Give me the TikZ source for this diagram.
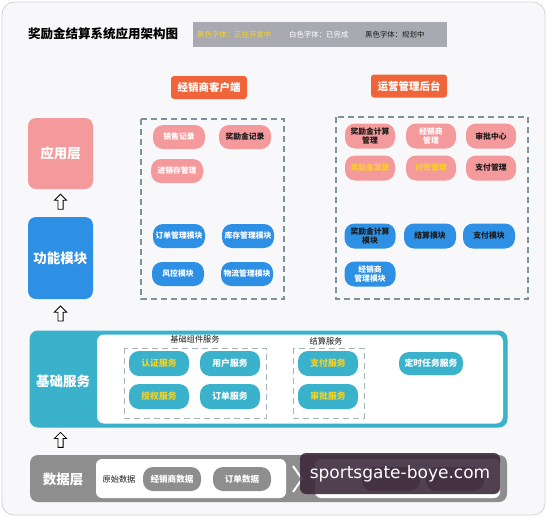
\documentclass[tikz,border=0pt]{standalone}
\usepackage{fontspec}
\setmainfont{Noto Sans CJK SC}
\newfontfamily\wmfont{DejaVu Sans}
\usetikzlibrary{shapes.arrows,calc}
\definecolor{pinkc}{HTML}{F59A9C}
\definecolor{bluec}{HTML}{2E90E5}
\definecolor{tealc}{HTML}{3BB2CB}
\definecolor{orangec}{HTML}{F0643A}
\definecolor{greyc}{HTML}{8E8E8E}
\definecolor{yellowc}{HTML}{F7D21E}
\definecolor{dashc}{HTML}{7B9399}
\definecolor{legendc}{HTML}{A9A9B2}
\definecolor{bgc}{HTML}{F8F8FB}
\definecolor{framec}{HTML}{D4D4D8}
\definecolor{wmc}{HTML}{3A2638}
\definecolor{darkt}{HTML}{1A1A1A}
\begin{document}
\begin{tikzpicture}[x=1pt,y=-1pt,
  pill/.style={rectangle, rounded corners=10pt, minimum width=52pt, minimum height=24pt, inner sep=0pt, align=center, font=\fontsize{7.8}{9}\selectfont\bfseries},
  pinkpill/.style={pill, fill=pinkc},
  bluepill/.style={pill, fill=bluec},
  tealpill/.style={pill, fill=tealc, minimum width=60pt, minimum height=25pt, font=\fontsize{8.8}{10}\selectfont\bfseries},
  datapill/.style={pill, fill=greyc, minimum width=58pt, minimum height=24pt, font=\fontsize{8.6}{10}\selectfont\bfseries, text=white},
  wt/.style={text=white},
  bt/.style={text=darkt},
  yt/.style={text=yellowc},
  layer/.style={rectangle, rounded corners=8pt, minimum width=65pt, inner sep=0pt, text=white, font=\fontsize{13.5}{15}\selectfont\bfseries},
  header/.style={rectangle, rounded corners=3pt, fill=orangec, minimum width=76pt, minimum height=23pt, inner sep=0pt, text=white, font=\fontsize{10.5}{12}\selectfont\bfseries},
  dashbox/.style={draw=dashc, line width=1.1pt, dash pattern=on 6pt off 4pt},
  sublabel/.style={font=\fontsize{8.2}{10}\selectfont, text=darkt},
  uparrow/.style={single arrow, draw=black, fill=white, line width=0.8pt, shape border rotate=90, minimum height=15pt, inner sep=2.2pt, single arrow head extend=3.5pt, single arrow tip angle=90},
  legt/.style={anchor=west, inner sep=0pt, font=\fontsize{7.4}{9}\selectfont}
]
\useasboundingbox (0,0) rectangle (547,517);
\fill[white] (0,0) rectangle (547,517);
\draw[framec, fill=bgc, rounded corners=12pt, line width=0.8pt] (2,2) rectangle (545,515);

% title and legend
\node[anchor=west, inner sep=0pt, font=\fontsize{12.5}{14}\selectfont\bfseries] (title) at (28,34) {奖励金结算系统应用架构图};
\node[fill=legendc, minimum width=254pt, minimum height=25pt, inner sep=0pt] (legend) at (320,34.5) {};
\node[legt, text=yellowc] (legy) at (197,34.5) {黄色字体：正在开发中};
\node[legt, text=white] (legw) at (289,34.5) {白色字体：已完成};
\node[legt, text=darkt] (legb) at (365,34.5) {黑色字体：规划中};

% headers
\node[header] (client) at (209,87.5) {经销商客户端};
\node[header] (ops) at (409,86) {运营管理后台};

% layer boxes
\node[layer, fill=pinkc, minimum height=71pt] (app) at (60.5,153.5) {应用层};
\node[layer, fill=bluec, minimum height=82pt] (func) at (60.5,258) {功能模块};

% dashed boxes
\draw[dashbox] (141,119) rectangle (284,299);
\draw[dashbox] (336,117) rectangle (528,299);

% client app pills
\node[pinkpill, wt] (p1) at (179,137) {销售记录};
\node[pinkpill, bt] (p2) at (245,137) {奖励金记录};
\node[pinkpill, wt] (p3) at (177,171) {进销存管理};
% client function pills
\node[bluepill, wt] (b1) at (179,236) {订单管理模块};
\node[bluepill, wt] (b2) at (248,236) {库存管理模块};
\node[bluepill, wt] (b3) at (178,274) {风控模块};
\node[bluepill, wt] (b4) at (247,274) {物流管理模块};

% ops app pills
\node[pinkpill, bt, minimum width=50pt, minimum height=25pt] (q1) at (370,136) {奖励金计算\\管理};
\node[pinkpill, wt, minimum width=50pt, minimum height=25pt] (q2) at (431,136) {经销商\\管理};
\node[pinkpill, bt, minimum width=50pt, minimum height=25pt] (q3) at (491,136) {审批中心};
\node[pinkpill, yt, minimum width=50pt, minimum height=25pt] (q4) at (370,168) {奖励金发放};
\node[pinkpill, yt, minimum width=50pt, minimum height=25pt] (q5) at (431,168) {对账管理};
\node[pinkpill, bt, minimum width=50pt, minimum height=25pt] (q6) at (491,168) {支付管理};
% ops function pills
\node[bluepill, bt, minimum width=51pt, minimum height=25pt] (c1) at (370,236) {奖励金计算\\模块};
\node[bluepill, bt, minimum width=52pt, minimum height=25pt] (c2) at (430,236) {结算模块};
\node[bluepill, bt, minimum width=52pt, minimum height=25pt] (c3) at (489,236) {支付模块};
\node[bluepill, wt, minimum width=51pt, minimum height=25pt] (c4) at (370,274) {经销商\\管理模块};

% base services
\node[draw=tealc, fill=tealc, rounded corners=8pt, line width=1pt, minimum width=477pt, minimum height=96pt, inner sep=0pt] (base) at (268.5,379) {};
\fill[white, rounded corners=7pt] (97,334.5) rectangle (503,423.5);
\node[text=white, font=\fontsize{13.5}{15}\selectfont\bfseries] (basetxt) at (63,381) {基础服务};
\node[sublabel] (lab1) at (195,339.5) {基础组件服务};
\node[sublabel] (lab2) at (326,341) {结算服务};
\draw[dashbox, draw=dashc!70, line width=0.9pt] (124,348) rectangle (266,418);
\draw[dashbox, draw=dashc!70, line width=0.9pt] (293,348) rectangle (364,418);
\node[tealpill, yt] (s1) at (159,363.5) {认证服务};
\node[tealpill, wt] (s2) at (230,363.5) {用户服务};
\node[tealpill, yt] (s3) at (159,396.5) {授权服务};
\node[tealpill, wt] (s4) at (230,396.5) {订单服务};
\node[tealpill, yt] (s5) at (328,363.5) {支付服务};
\node[tealpill, yt] (s6) at (328,396.5) {审批服务};
\node[tealpill, wt, minimum width=64pt, minimum height=23pt] (s7) at (431,363.5) {定时任务服务};

% data layer
\node[fill=greyc, rounded corners=8pt, minimum width=477pt, minimum height=47pt, inner sep=0pt] (data) at (268.5,478.5) {};
\node[text=white, font=\fontsize{13.5}{15}\selectfont\bfseries] (datatxt) at (63,479) {数据层};
\fill[white, rounded corners=6pt] (96,459) rectangle (286,498);
\fill[white, rounded corners=6pt] (315,459) rectangle (500,498);
\node[font=\fontsize{8.2}{10}\selectfont, text=darkt] (raw) at (119,479) {原始数据};
\node[datapill] (d1) at (172,479) {经销商数据};
\node[datapill] (d2) at (242,479) {订单数据};
\node[datapill] (d3) at (391,479) {};
\node[datapill] (d4) at (455,479) {};
\draw[white, line width=2pt] (293,466) -- (302,479) -- (293,492);

% up arrows between layers
\node[uparrow] (a1) at ($(app.south)!0.5!(func.north)$) {};
\node[uparrow] (a2) at ($(func.south)!0.5!(func.south |- base.north)$) {};
\node[uparrow] (a3) at ($(func.south |- base.south)!0.5!(func.south |- data.north)$) {};

% watermark
\node[fill=wmc, fill opacity=0.88, text opacity=1, rounded corners=6pt, minimum width=200pt, minimum height=41pt, inner sep=0pt, text=white, font=\wmfont\fontsize{17}{19}\selectfont] (wm) at (400,473.5) {sportsgate-boye.com};
\end{tikzpicture}
\end{document}
